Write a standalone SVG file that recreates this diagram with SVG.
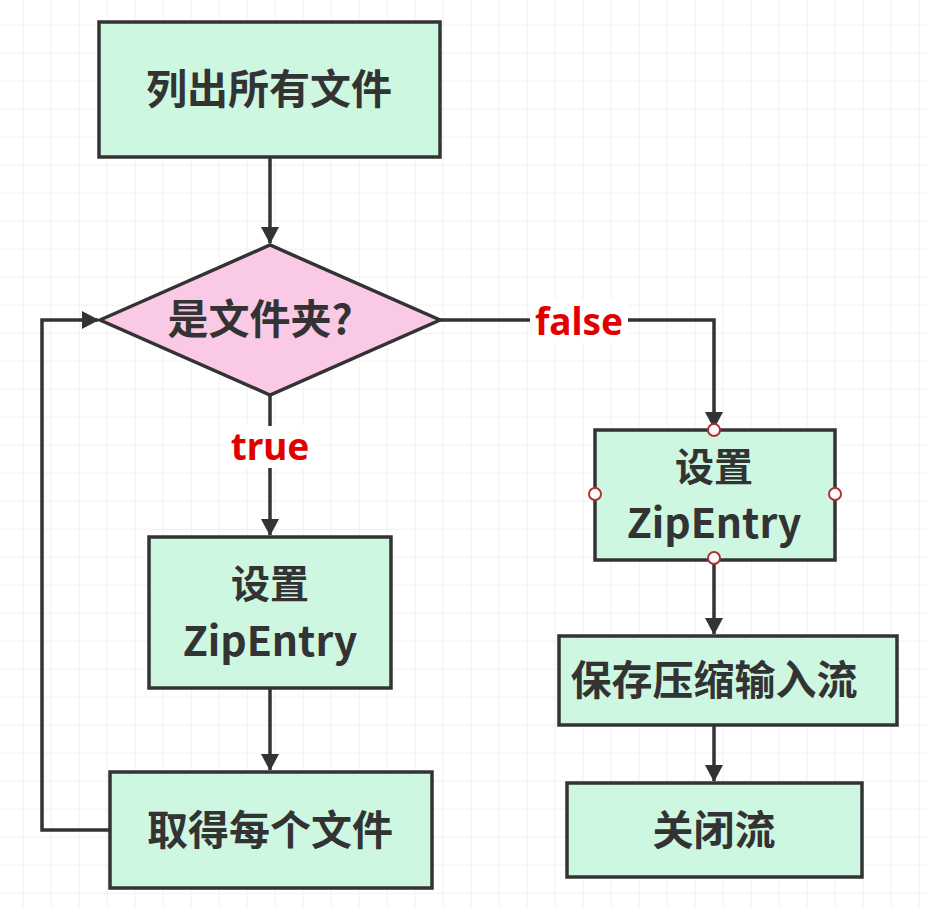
<svg xmlns="http://www.w3.org/2000/svg" width="928" height="908" viewBox="0 0 928 908">
<defs>
<pattern id="g" x="22.7" y="24.7" width="28" height="28" patternUnits="userSpaceOnUse"><path d="M0 0H28M0 0V28" fill="none" stroke="#e4e4e4" stroke-width="1"/></pattern>
<marker id="ab" markerWidth="18" markerHeight="20" refX="16" refY="10" orient="auto" markerUnits="userSpaceOnUse"><path d="M0 1L17 10L0 19Z" fill="#333"/></marker>
</defs>
<style>
.n{fill:#cdf7e1;stroke:#333;stroke-width:3.5}
.t{font-family:"Noto Sans CJK SC","Noto Sans",sans-serif;font-weight:bold;font-size:41px;fill:#333;text-anchor:middle}
.s{font-size:39px}
.l{font-family:"Noto Sans","Liberation Sans",sans-serif;font-weight:bold;font-size:37px;fill:#e00000;text-anchor:middle}
.c{fill:none;stroke:#333;stroke-width:3.5}
.h{fill:#fff;stroke:#b03030;stroke-width:2}
</style>
<rect width="928" height="908" fill="#fff"/>
<rect width="928" height="908" fill="url(#g)"/>
<g id="connectors">
<path class="c" d="M270 157V243" marker-end="url(#ab)"/>
<path class="c" d="M270 395V535" marker-end="url(#ab)"/>
<path class="c" d="M270 688V770" marker-end="url(#ab)"/>
<path class="c" d="M110 830H42V320H98" marker-end="url(#ab)"/>
<path class="c" d="M440 320H714V428" marker-end="url(#ab)"/>
<path class="c" d="M714 560V634" marker-end="url(#ab)"/>
<path class="c" d="M714 725V781" marker-end="url(#ab)"/>
<rect x="530" y="300" width="98" height="42" fill="#fff"/>
<text class="l" x="579" y="335">false</text>
<rect x="225" y="426" width="90" height="42" fill="#fff"/>
<text class="l" x="270" y="460">true</text>
</g>
<g id="n1"><rect class="n" x="99" y="22" width="341" height="135"/><text class="t" x="269" y="104">列出所有文件</text></g>
<g id="n2"><path d="M100 320L270 245L440 320L270 395Z" fill="#fac9e6" stroke="#333" stroke-width="3.5"/><text class="t" x="260" y="334">是文件夹?</text></g>
<g id="n3"><rect class="n" x="149" y="537" width="242" height="151"/><text class="t s" x="270" y="598">设置</text><text class="t" x="270" y="656">ZipEntry</text></g>
<g id="n4"><rect class="n" x="110" y="772" width="322" height="116"/><text class="t" x="270" y="845">取得每个文件</text></g>
<g id="n5"><rect class="n" x="595" y="430" width="240" height="130"/><text class="t s" x="714" y="481">设置</text><text class="t" x="714" y="538">ZipEntry</text>
<circle class="h" cx="714" cy="430" r="6"/><circle class="h" cx="595" cy="494" r="6"/><circle class="h" cx="835" cy="494" r="6"/><circle class="h" cx="714" cy="558" r="6"/></g>
<g id="n6"><rect class="n" x="559" y="636" width="338" height="89"/><text class="t" x="714" y="695">保存压缩输入流</text></g>
<g id="n7"><rect class="n" x="567" y="783" width="295" height="94"/><text class="t" x="714" y="845">关闭流</text></g>
</svg>
